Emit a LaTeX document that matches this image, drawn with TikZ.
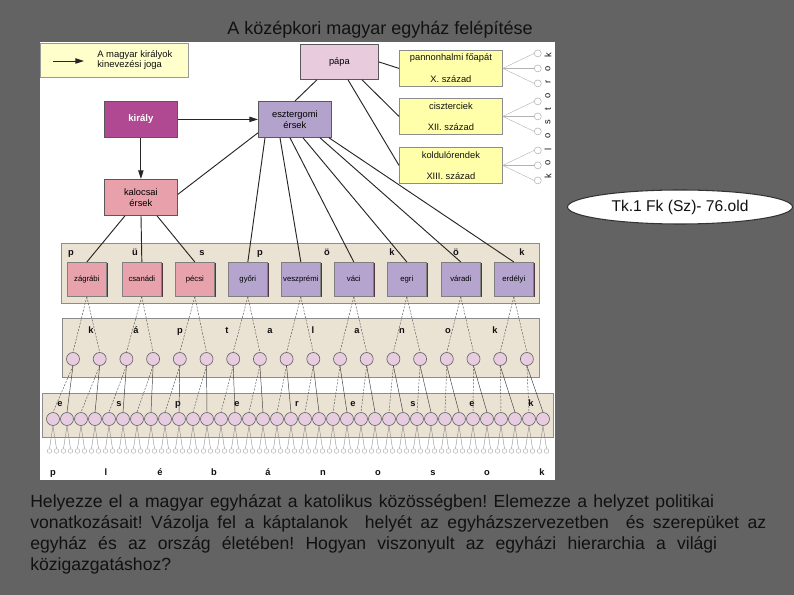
\documentclass[tikz,border=0pt]{standalone}
\usepackage{fontspec}
\setmainfont{Liberation Sans}
\usetikzlibrary{calc,arrows.meta,shapes.geometric}
\newlength\upx
\setlength\upx{0.75pt}
\definecolor{bgc}{RGB}{99,99,99}
\definecolor{legc}{RGB}{255,255,204}
\definecolor{kirc}{RGB}{176,72,146}
\definecolor{kalc}{RGB}{232,160,170}
\definecolor{eszc}{RGB}{178,162,204}
\definecolor{papc}{RGB}{232,204,222}
\definecolor{kolc}{RGB}{255,255,170}
\definecolor{bandc}{RGB}{234,226,210}
\definecolor{pinkb}{RGB}{232,162,172}
\definecolor{purpb}{RGB}{180,164,206}
\definecolor{circc}{RGB}{232,204,224}
\definecolor{shc}{RGB}{80,56,64}
\definecolor{txt}{RGB}{17,17,17}
\frenchspacing
\begin{document}
\begin{tikzpicture}[x=0.75pt,y=-0.75pt,
  box/.style={draw=black!65, line width=0.6pt, inner sep=0pt, anchor=north west, align=center, font=\fontsize{7}{8}\selectfont},
  pbox/.style={draw=black!50, line width=0.5pt, inner sep=0pt, anchor=north west, minimum width=39\upx, minimum height=34\upx, font=\fontsize{5.8}{6}\selectfont, text height=4.3pt, text depth=1.3pt},
  conn/.style={line width=0.7pt, black!85},
  arr/.style={conn, -{Triangle[length=6.5pt,width=4pt]}},
  thinl/.style={line width=0.35pt, black!75},
  dashl/.style={line width=0.35pt, black!65, dash pattern=on 1.5pt off 1pt},
  pll/.style={line width=0.3pt, black!45},
  koll/.style={line width=0.3pt, black!30},
  band/.style={draw=black!45, fill=bandc, line width=0.6pt, inner sep=0pt, anchor=north west},
  bl/.style={font=\fontsize{7}{8}\selectfont\bfseries, inner sep=0pt, text=txt, text height=5.2pt, text depth=1.5pt},
  kc/.style={circle, draw=black!60, fill=circc, minimum size=13\upx, inner sep=0pt, line width=0.5pt},
  kolcirc/.style={circle, draw=black!30, fill=white, minimum size=7\upx, inner sep=0pt, line width=0.4pt},
  plc/.style={circle, draw=black!35, fill=white, minimum size=4.6\upx, inner sep=0pt, line width=0.3pt},
  small/.style={font=\fontsize{7}{8}\selectfont, inner sep=0pt, text=txt}
]
\fill[bgc] (0,0) rectangle (794,595);
\useasboundingbox (0,0) rectangle (794,595);
\fill[white] (40,42) rectangle (555,480);

% title
\node[anchor=base, font=\fontsize{13.5}{16}\selectfont, text=txt, inner sep=0pt] (title) at (380,35) {A középkori magyar egyház felépítése};

% legend
\node[box, draw=black!40, fill=legc, minimum width=148\upx, minimum height=34\upx] (leg) at (40,43) {};
\coordinate (la1) at (53,61);
\coordinate (la2) at (84,61);
\draw[arr] (la1) -- (la2);
\node[small, anchor=west, align=left, font=\fontsize{7.1}{7.6}\selectfont] (legt) at (97,60) {A magyar királyok\\kinevezési joga};

% top boxes
\node[box, fill=kirc, text=white, minimum width=73\upx, minimum height=36\upx, font=\fontsize{7.2}{8}\selectfont\bfseries] (kir) at (104,101) {király};
\node[box, fill=kalc, minimum width=73\upx, minimum height=36\upx] (kal) at (104,179) {kalocsai\\érsek};
\node[box, fill=eszc, minimum width=73\upx, minimum height=36\upx] (esz) at (258,101) {esztergomi\\érsek};
\node[box, fill=papc, minimum width=78\upx, minimum height=35\upx] (pap) at (300,44) {pápa};

% monastic boxes
\foreach \i/\y/\ta/\tb in {1/50/pannonhalmi főapát/X. század, 2/98/ciszterciek/XII. század, 3/147/koldulórendek/XIII. század} {
  \node[box, draw=black!45, fill=kolc, minimum width=103\upx, minimum height=36\upx] (kol\i) at (399,\y) {};
  \node[small] (kola\i) at ($(kol\i.north)+(0,8)$) {\ta};
  \node[small] (kolb\i) at ($(kol\i.south)+(0,-8)$) {\tb};
  \foreach \d [count=\n] in {-15,0,15} {
    \node[kolcirc] (kc\i\n) at ($(kol\i.east)+(35,\d)$) {};
    \draw[koll] (kol\i.east) -- (kc\i\n.west);
  }
}
\foreach \ch [count=\n] in {k,o,l,o,s,t,o,r,o,k} {
  \node[small, rotate=90] (kol-\n) at (548,{176-13.4*(\n-1)}) {\ch};
}

% connectors top
\draw[arr] (kir.east) -- (esz.west);
\draw[arr] (kir.south) -- (kal.north);
\draw[conn] ($(esz.south west)+(0,-5)$) -- ($(kal.east)+(0,-3)$);
\draw[conn] (pap.east) -- (kol1.west);
\draw[conn] ($(pap.south west)+(62,0)$) -- (kol2.west);
\draw[conn] ($(pap.south west)+(48,0)$) -- (kol3.west);
\draw[conn] ($(pap.south west)+(17,0)$) -- ($(esz.north west)+(37,0)$);

% püspökök band
\node[band, minimum width=478\upx, minimum height=60\upx] (pband) at (61,243) {};
\foreach \ch/\x [count=\n] in {p/71,ü/135,s/202,p/260,ö/327,k/392,ö/456,k/522} {
  \node[bl] (pl-\n) at (\x,253) {\ch};
}
\foreach \i/\x/\nm/\c in {1/67/zágrábi/pinkb, 2/122/csanádi/pinkb, 3/175/pécsi/pinkb, 4/228/győri/purpb, 5/281/veszprémi/purpb, 6/334/váci/purpb, 7/387/egri/purpb, 8/441/váradi/purpb, 9/494/erdélyi/purpb} {
  \fill[shc] (\x+1.5,263.5) rectangle (\x+41,297.5);
  \node[pbox, fill=\c] (pb\i) at (\x,262) {\nm};
}
\foreach \i/\dx in {1/21,2/37,3/53} {
  \draw[conn] ($(kal.south west)+(\dx,0)$) -- (pb\i.north);
}
\foreach \i/\dx in {4/7,5/22,6/32,7/45,8/62,9/71} {
  \draw[conn] ($(esz.south west)+(\dx,0)$) -- (pb\i.north);
}

% káptalanok band
\node[band, minimum width=477\upx, minimum height=59\upx] (kband) at (62,318) {};
\foreach \ch/\x [count=\n] in {k/91,á/136,p/180,t/227,a/270,l/313,a/357,n/402,o/448,k/495} {
  \node[bl] (kl-\n) at (\x,331) {\ch};
}
\foreach \i in {1,...,18} {
  \node[kc] (k\i) at ({73+26.7*(\i-1)},359) {};
}
\foreach \j in {1,...,9} {
  \pgfmathtruncatemacro\a{2*\j-1}
  \pgfmathtruncatemacro\b{2*\j}
  \draw[dashl] (pb\j.south) -- (k\a.north);
  \draw[dashl] (pb\j.south) -- (k\b.north);
}

% esperesek band
\node[band, minimum width=511\upx, minimum height=44\upx] (eband) at (42,393) {};
\foreach \ch/\x [count=\n] in {e/60,s/119,p/178,e/237,r/297,e/353,s/413,e/472,k/531} {
  \node[bl] (el-\n) at (\x,404) {\ch};
}
\foreach \j in {1,...,36} {
  \node[kc] (e\j) at ({53+14*(\j-1)},419) {};
}
\foreach \i in {1,...,18} {
  \pgfmathtruncatemacro\a{2*\i-1}
  \pgfmathtruncatemacro\b{2*\i}
  \draw[dashl] (k\i.south) -- (e\a.north);
  \draw[thinl] (k\i.south) -- (e\b.north);
}

% plébánosok
\foreach \m in {1,...,72} {
  \node[plc] (pl\m) at ({49.5+7*(\m-1)},451) {};
}
\foreach \j in {1,...,36} {
  \pgfmathtruncatemacro\a{2*\j-1}
  \pgfmathtruncatemacro\b{2*\j}
  \draw[pll] (e\j.south) -- (pl\a.north);
  \draw[pll] (e\j.south) -- (pl\b.north);
}
\foreach \ch/\x [count=\n] in {p/53,l/106,é/160,b/214,á/268,n/323,o/378,s/433,o/487,k/542} {
  \node[bl] (pll-\n) at (\x,473) {\ch};
}

% ellipse
\node[ellipse, draw=black!80, line width=0.8pt, fill=white, minimum width=225\upx, minimum height=34\upx, inner sep=0pt, font=\fontsize{11.7}{13}\selectfont, text=txt] (tk) at (680,207) {Tk.1 Fk (Sz)- 76.old};

% question text
\begin{scope}[every node/.style={anchor=base west, inner sep=0pt, font=\fontsize{13.2}{15}\selectfont, text=txt}]
\node (q1) at (30,508) {\hbox to 684\upx{Helyezze el a magyar egyházat a katolikus közösségben! Elemezze a helyzet politikai}};
\node (q2) at (30,529) {\hbox to 736\upx{vonatkozásait! Vázolja fel a káptalanok\ \ helyét az egyházszervezetben\ \ és szerepüket az}};
\node (q3) at (30,550) {\hbox to 687\upx{egyház és az ország életében! Hogyan viszonyult az egyházi hierarchia a világi}};
\node (q4) at (30,571) {közigazgatáshoz?};
\end{scope}
\end{tikzpicture}
\end{document}
